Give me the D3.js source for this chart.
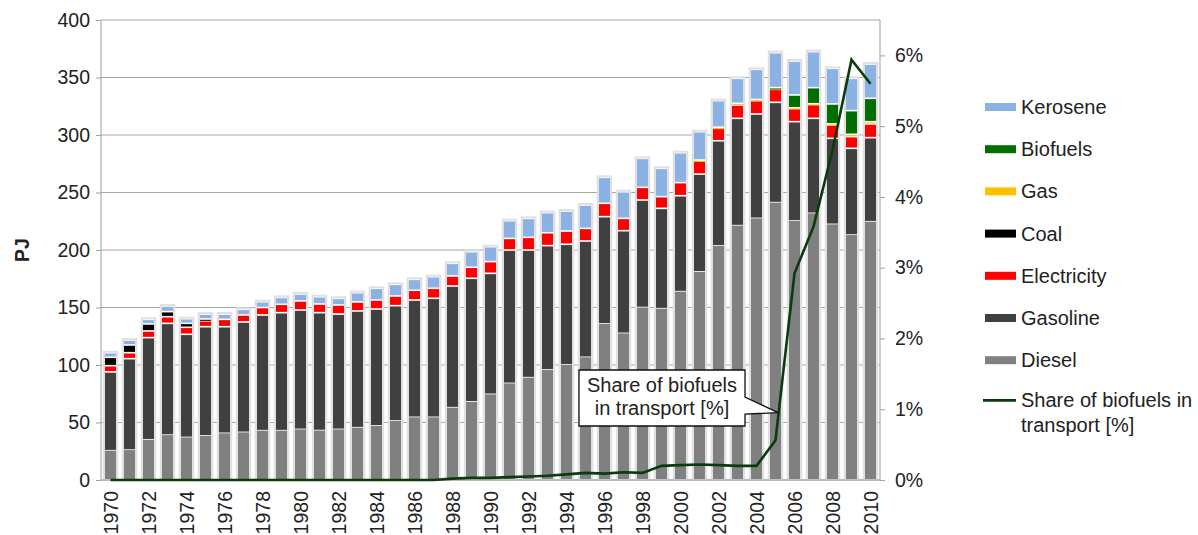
<!DOCTYPE html>
<html><head><meta charset="utf-8">
<script src="https://cdn.jsdelivr.net/npm/d3@7"></script>
<style>
body{margin:0;background:#fff}
svg{display:block}
text{font-family:Arial,"Liberation Sans",sans-serif;fill:#222}
</style>
</head><body><svg id="c" width="1198" height="535"></svg>
<script>
const years = [1970,1971,1972,1973,1974,1975,1976,1977,1978,1979,1980,1981,1982,1983,1984,1985,1986,1987,1988,1989,1990,1991,1992,1993,1994,1995,1996,1997,1998,1999,2000,2001,2002,2003,2004,2005,2006,2007,2008,2009,2010];
const diesel      = [25.5,26,35,39,37,38.3,40.6,41.4,42.9,42.9,44,43,44,45.5,47,51.3,54.5,54.5,62.9,68,74.5,84,89,95.7,100,106.7,135.7,127.5,150,149,163.8,181,203.5,221.2,227.5,241.2,225.2,231.9,222.3,213,224.6];
const gasoline    = [68.5,79.5,88.8,97.2,89.7,95,92.7,96,100.6,102.6,103.8,102.5,100.3,101.5,101.7,100.3,102,103.5,105.8,107.4,105.2,116,111,108.1,105,101.1,93.3,89.3,93.5,87.2,83.4,85,91.5,93.3,90.8,87.2,86.4,82.6,74.8,75.4,73.1];
const electricity = [5.4,5.2,5.8,5.8,6.1,5.2,6.4,6.1,6.5,7.3,7.9,7.5,7.9,7.8,7.8,8.4,8.5,8.7,8.7,9.6,10.2,10.1,11,11.2,11.5,11,11.6,10.7,11,10.2,11.4,11.7,10.8,11.5,11.6,11.3,11.6,12.2,11.6,10.2,11.9];
const coal        = [7.3,6.7,6.1,4.4,3.4,1.5,0,0,0,0,0,0,0,0,0,0,0,0,0,0,0,0,0,0,0,0,0,0,0,0,0,0,0,0,0,0,0,0,0,0,0];
const gas         = [0,0,0,0,0,0,0,0,0,0,0,0,0,0,0,0,0,0,0,0,0,0,0,0,0,0,0,0,0,0,0,0.5,1,1.5,1,1,0.5,0.5,1,2,2];
const biofuels    = [0,0,0,0,0,0,0,0,0,0,0,0,0,0,0,0,0,0,0,0,0,0,0,0,0,0,0,0,0,0,0,0,0,0,0,0.5,11.1,14,17.3,20.6,20.3];
const kerosene    = [4,4.3,4,4.9,4.1,4.3,4.6,4.9,5,6,6,6.4,5.8,8.1,10.2,10.1,9.5,10.1,11,13.5,13,15.4,16.5,17.5,17.4,20.3,22.6,23.2,25.2,24.6,26,24.7,23.1,21.8,26.2,30.4,29.5,31.3,31,28.1,29.8];
const biofuelShare = [0,0,0,0,0,0,0,0,0,0,0,0,0,0,0,0,0,0,0.02,0.03,0.03,0.04,0.05,0.06,0.08,0.1,0.09,0.11,0.1,0.2,0.21,0.22,0.21,0.2,0.2,0.56,2.92,3.58,4.66,5.94,5.6];
const leftTicks = [0,50,100,150,200,250,300,350,400];
const rightTicks = [0,1,2,3,4,5,6];
const xLabelYears = [1970,1972,1974,1976,1978,1980,1982,1984,1986,1988,1990,1992,1994,1996,1998,2000,2002,2004,2006,2008,2010];
const seriesNames = ["Diesel","Gasoline","Electricity","Coal","Gas","Biofuels","Kerosene"];
const seriesColors = ["#808080","#404040","#ff0000","#000000","#ffc000","#006e00","#8bb2e3"];
const legendOrder = ["Kerosene","Biofuels","Gas","Coal","Electricity","Gasoline","Diesel"];
const lineLabel = ["Share of biofuels in","transport [%]"];
const calloutText = ["Share of biofuels","in transport [%]"];

const seriesData = [diesel,gasoline,electricity,coal,gas,biofuels,kerosene];
const rows = years.map((y,i)=>{const o={year:y}; seriesNames.forEach((n,k)=>o[n]=seriesData[k][i]); return o;});
const stack = d3.stack().keys(seriesNames)(rows);

const svg = d3.select("#c");
const L=101, R=880, T=20, B=480;
const x = d3.scaleBand().domain(years).range([L,R]).padding(0);
const y = d3.scaleLinear().domain([0,400]).range([B,T]);
const yR = d3.scaleLinear().domain([0,6.5]).range([B,T]);
const cx = d=>x(d)+x.bandwidth()/2;
const barW=11, haloW=15.5;
const FS=19.5, FL=20;

// gridlines
svg.append("g").selectAll("line").data(leftTicks).join("line")
  .attr("x1",L).attr("x2",R).attr("y1",d=>y(d)).attr("y2",d=>y(d))
  .attr("stroke","#a6a6a6").attr("stroke-width",1);

// halos
const totals = rows.map((r,i)=>d3.sum(seriesData,s=>s[i]));
svg.append("g").selectAll("rect").data(years).join("rect")
  .attr("x",d=>cx(d)-haloW/2).attr("width",haloW)
  .attr("y",(d,i)=>y(totals[i])-2).attr("height",(d,i)=>B-y(totals[i])+2)
  .attr("fill","#e0e0e0");
// white underlay
svg.append("g").selectAll("rect").data(years).join("rect")
  .attr("x",d=>cx(d)-barW/2).attr("width",barW)
  .attr("y",(d,i)=>y(totals[i])).attr("height",(d,i)=>B-y(totals[i]))
  .attr("fill","#fff");
// segments
const gap=1.6;
svg.append("g").selectAll("g").data(stack).join("g")
  .attr("fill",(d,i)=>seriesColors[i])
  .selectAll("rect").data(d=>d.filter(p=>p[1]-p[0]>0)).join("rect")
  .attr("x",d=>cx(d.data.year)-barW/2).attr("width",barW)
  .attr("y",d=>y(d[1])+(d[0]===0?0:gap/2))
  .attr("height",d=>{const h=y(d[0])-y(d[1]); return Math.max(1, h-(d[0]===0?gap/2:gap));});

// axes lines
const axisCol="#a0a0a0";
svg.append("line").attr("x1",L).attr("x2",L).attr("y1",T).attr("y2",B).attr("stroke",axisCol);
svg.append("line").attr("x1",R).attr("x2",R).attr("y1",T).attr("y2",B).attr("stroke",axisCol);
svg.append("line").attr("x1",L).attr("x2",R).attr("y1",B).attr("y2",B).attr("stroke",axisCol);

// left axis
const gl = svg.append("g").attr("transform",`translate(${L},0)`)
  .call(d3.axisLeft(y).tickValues(leftTicks).tickSize(5).tickPadding(6));
gl.select(".domain").remove();
gl.selectAll(".tick line").attr("stroke",axisCol);
gl.selectAll(".tick text").attr("font-size",FS).attr("fill","#222").style("font-family",'Arial,"Liberation Sans",sans-serif');

// right axis
const gr = svg.append("g").attr("transform",`translate(${R},0)`)
  .call(d3.axisRight(yR).tickValues(rightTicks).tickSize(5).tickPadding(10).tickFormat(d=>d+"%"));
gr.select(".domain").remove();
gr.selectAll(".tick line").attr("stroke",axisCol);
gr.selectAll(".tick text").attr("font-size",FS).attr("fill","#222").style("font-family",'Arial,"Liberation Sans",sans-serif');

// x labels
svg.append("g").selectAll("text").data(xLabelYears).join("text")
  .attr("transform",d=>`translate(${cx(d)+7},${B+11}) rotate(-90)`)
  .attr("text-anchor","end").attr("font-size",FS).text(d=>d);

// PJ label
svg.append("text").attr("transform",`translate(29,${(T+B)/2}) rotate(-90)`)
  .attr("text-anchor","middle").attr("font-size",FS).attr("font-weight","bold").text("PJ");

// share line
const lineCol="#0b3a0b";
svg.append("path").datum(biofuelShare)
  .attr("d",d3.line().x((d,i)=>cx(years[i])).y(d=>yR(d)))
  .attr("fill","none").attr("stroke",lineCol).attr("stroke-width",2.6).attr("stroke-linejoin","miter");

// callout
const i5 = years.indexOf(2005);
const f=0.13;
const tipX = cx(2005)+f*x.bandwidth();
const tipY = yR(biofuelShare[i5]+f*(biofuelShare[i5+1]-biofuelShare[i5]))-6;
const bx0=579,bx1=745,by0=370,by1=426;
svg.append("path")
  .attr("d",`M${bx0},${by0}H${bx1}V${by0+27}L${tipX},${tipY}L${bx1},${by0+44}V${by1}H${bx0}Z`)
  .attr("fill","#fff").attr("stroke","#111").attr("stroke-width",1.3);
svg.append("g").selectAll("text").data(calloutText).join("text")
  .attr("x",(bx0+bx1)/2).attr("y",(d,i)=>392+i*23).attr("text-anchor","middle")
  .attr("font-size",FL).text(d=>d);

// legend
const lg = svg.append("g");
const ly0=107, ldy=42.2;
legendOrder.forEach((n,i)=>{
  const c = seriesColors[seriesNames.indexOf(n)];
  lg.append("rect").attr("x",985).attr("y",ly0+i*ldy-4).attr("width",31).attr("height",8).attr("fill",c);
  lg.append("text").attr("x",1021).attr("y",ly0+i*ldy).attr("dy","0.35em").attr("font-size",FL).text(n);
});
const lly = ly0+7*ldy-2;
lg.append("line").attr("x1",983).attr("x2",1016).attr("y1",lly).attr("y2",lly).attr("stroke",lineCol).attr("stroke-width",2.6);
lg.selectAll("text.ll").data(lineLabel).join("text").attr("class","ll")
  .attr("x",1021).attr("y",(d,i)=>lly+i*25).attr("dy","0.35em").attr("font-size",FL).text(d=>d);
</script>
</body></html>
